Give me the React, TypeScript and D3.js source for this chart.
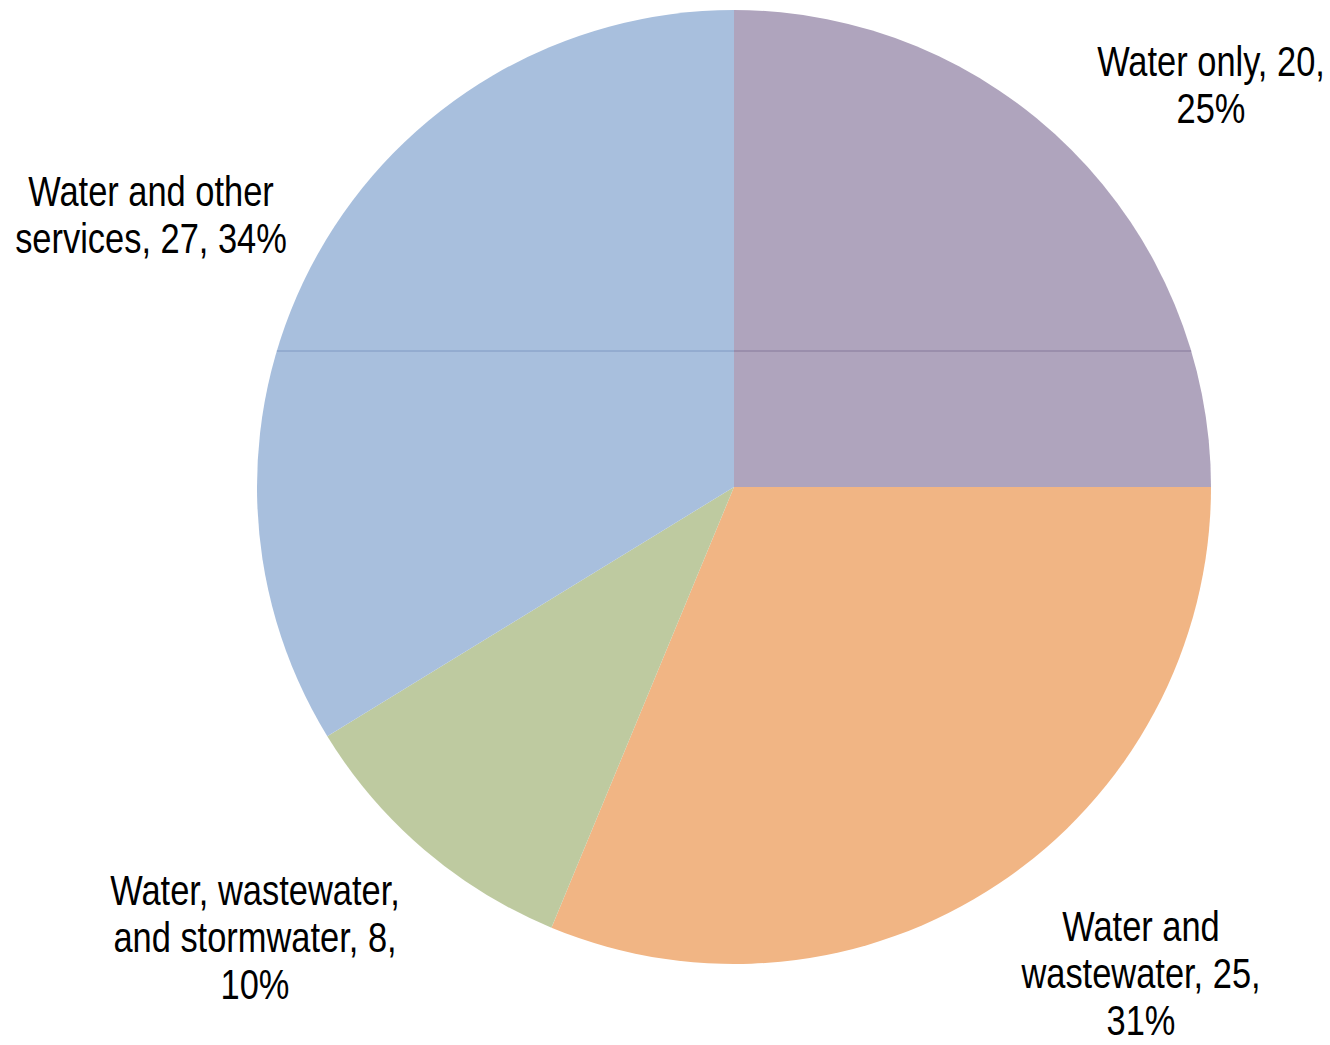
import React from "react";
import * as d3 from "d3";

const categories = [
  "Water only",
  "Water and wastewater",
  "Water, wastewater, and stormwater",
  "Water and other services",
];
const values = [20, 25, 8, 27];
const percents = ["25%", "31%", "10%", "34%"];
const colors = ["#AFA4BD", "#F1B584", "#BECAA0", "#A8BFDD"];
const labelLines = [
  ["Water only, 20,", "25%"],
  ["Water and", "wastewater, 25,", "31%"],
  ["Water, wastewater,", "and stormwater, 8,", "10%"],
  ["Water and other", "services, 27, 34%"],
];

const W = 1330;
const H = 1045;
const cx = 734;
const cy = 487;
const R = 477;

const labelPos = [
  { x: 1211, y: 76 },
  { x: 1141, y: 941 },
  { x: 255, y: 905 },
  { x: 151, y: 206 },
];

export default function App() {
  const data = categories.map((c, i) => ({ c, v: values[i], i }));
  const pie = d3.pie<any>().sort(null).value((d) => d.v);
  const arcs = pie(data);
  const arc = d3.arc<any>().innerRadius(0).outerRadius(R);
  const lineH = 47;
  const yLine = 351;
  const halfW = Math.sqrt(R * R - (cy - yLine) * (cy - yLine));
  return (
    <svg
      width={W}
      height={H}
      style={{ position: "absolute", left: 0, top: 0, background: "#fff" }}
      fontFamily="'Liberation Sans Narrow', 'Arial Narrow', 'Liberation Sans', Arial, sans-serif"
    >
      <g transform={`translate(${cx},${cy})`}>
        {arcs.map((a, i) => (
          <path key={i} d={arc(a) as string} fill={colors[i]} />
        ))}
        <line x1={-halfW} x2={0} y1={yLine - cy} y2={yLine - cy} stroke="#7f98c2" strokeWidth={1} />
        <line x1={0} x2={halfW} y1={yLine - cy} y2={yLine - cy} stroke="#85789a" strokeWidth={1} />
      </g>
      {labelLines.map((lines, i) => (
        <text
          key={i}
          textAnchor="middle"
          fontSize={42}
          fill="#000"
          transform={`translate(${labelPos[i].x},0) scale(0.82,1)`}
        >
          {lines.map((l, j) => (
            <tspan key={j} x={0} y={labelPos[i].y + j * lineH}>
              {l}
            </tspan>
          ))}
        </text>
      ))}
    </svg>
  );
}
